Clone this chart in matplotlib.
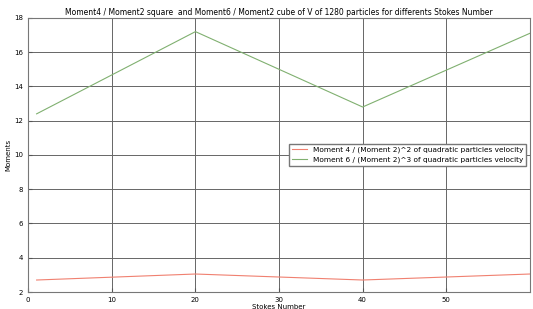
import matplotlib.pyplot as plt
import numpy as np

stokes = [1, 20, 40, 60]
moment4 = [2.7, 3.05, 2.7, 3.05]
moment6 = [12.4, 17.2, 12.8, 17.1]

fig = plt.figure(figsize=(5.33, 3.09), dpi=100)
ax = fig.add_axes([0.053, 0.055, 0.941, 0.887])

ax.plot(stokes, moment4, color='#f08070', lw=0.8,
        label='Moment 4 / (Moment 2)^2 of quadratic particles velocity')
ax.plot(stokes, moment6, color='#80b070', lw=0.8,
        label='Moment 6 / (Moment 2)^3 of quadratic particles velocity')

ax.set_xlim(0, 60)
ax.set_ylim(2, 18)
ax.set_xticks([0, 10, 20, 30, 40, 50])
ax.set_yticks(np.arange(2, 19, 2))
ax.grid(True, color='#666666', lw=0.7)
ax.tick_params(direction='in', labelsize=5, length=3, color='#555555')
for s in ax.spines.values():
    s.set_color('#777777')

ax.set_title('Moment4 / Moment2 square  and Moment6 / Moment2 cube of V of 1280 particles for differents Stokes Number',
             fontsize=5.5, pad=2)
ax.set_xlabel('Stokes Number', fontsize=5, labelpad=1)
ax.set_ylabel('Moments', fontsize=5, labelpad=2)

leg = ax.legend(loc='center right', bbox_to_anchor=(1.0, 0.5), fontsize=5.3,
                fancybox=False, framealpha=1, handlelength=2)
leg.get_frame().set_edgecolor('#777777')

plt.savefig('out.png', dpi=100)
